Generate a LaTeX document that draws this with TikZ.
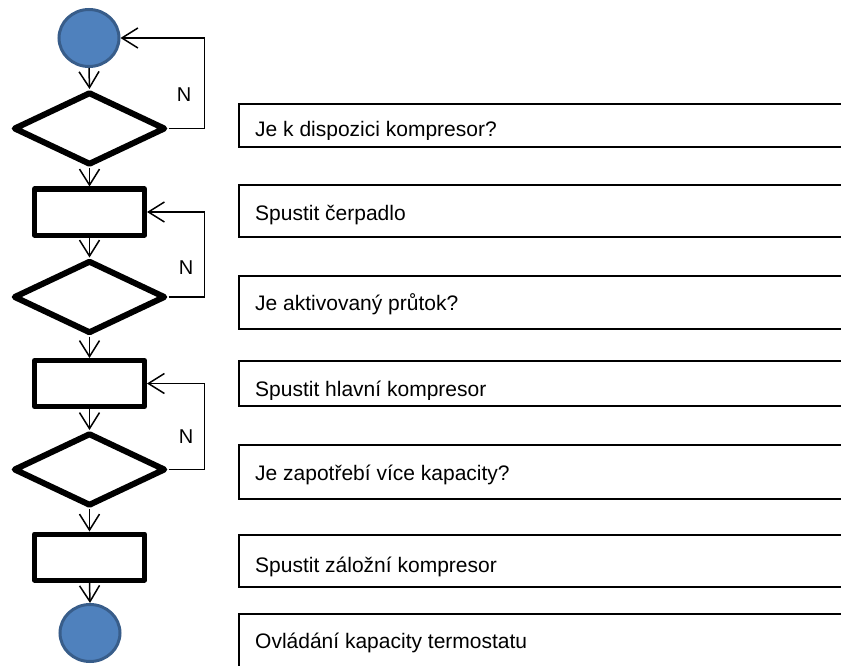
\documentclass[tikz,border=0pt]{standalone}
\usepackage{fontspec}
\setmainfont{Liberation Sans}
\usetikzlibrary{shapes.geometric,arrows.meta}
\definecolor{circfill}{HTML}{4F81BD}
\definecolor{circline}{HTML}{385D8A}
\tikzset{
  startend/.style={ellipse, draw=circline, fill=circfill, line width=3pt,
    minimum width=60pt, minimum height=57pt, inner sep=0pt},
  decision/.style={diamond, draw=black, line width=6pt, line join=round,
    minimum width=152pt, minimum height=73pt, inner sep=0pt},
  process/.style={rectangle, draw=black, line width=5pt, line join=round,
    minimum width=110pt, minimum height=46pt, inner sep=0pt},
  conn/.style={draw=black, line width=1.5pt,
    -{Straight Barb[length=16pt,width=20pt,line width=1.5pt]}},
  loopline/.style={conn},
  nlbl/.style={font=\fontsize{20}{24}\selectfont, inner sep=0pt},
  lblbox/.style={rectangle, draw=black, line width=2pt, inner sep=0pt,
    anchor=north west, minimum width=640pt},
  txt/.style={font=\fontsize{21}{25}\selectfont, inner sep=0pt, anchor=base west},
}
\begin{document}
\begin{tikzpicture}[x=1pt,y=-1pt]
\useasboundingbox (0,0) rectangle (841,666);
\clip (0,0) rectangle (841,666);
\fill[white] (0,0) rectangle (841,666);

% flow shapes
\node[startend] (c1) at (89,38) {};
\node[decision] (d1) at (89.5,128.5) {};
\node[process]  (p1) at (89.5,212) {};
\node[decision] (d2) at (89.5,297) {};
\node[process]  (p2) at (89.5,383.5) {};
\node[decision] (d3) at (89.5,469.5) {};
\node[process]  (p3) at (89.5,557) {};
\node[startend] (c2) at (90,633) {};

% main connectors
\draw[conn] (c1.south) -- (d1.north);
\draw[conn] (d1.south) -- (p1.north);
\draw[conn] (p1.south) -- (d2.north);
\draw[conn] (d2.south) -- (p2.north);
\draw[conn] (p2.south) -- (d3.north);
\draw[conn] (d3.south) -- (p3.north);
\draw[conn] (p3.south) -- (c2.north);

% loops
\draw[loopline] (d1.east) -- ++(36,0) |- (c1.east);
\draw[loopline] (d2.east) -- ++(36,0) |- (p1.east);
\draw[loopline] (d3.east) -- ++(36,0) |- (p2.east);

\node[nlbl] (n1) at (184,95) {N};
\node[nlbl] (n2) at (186,268) {N};
\node[nlbl] (n3) at (186,437) {N};

% label boxes
\node[lblbox, minimum height=43pt] (b1) at (238,103) {};
\node[lblbox, minimum height=52pt] (b2) at (238,184) {};
\node[lblbox, minimum height=53pt] (b3) at (238,275) {};
\node[lblbox, minimum height=45pt] (b4) at (238,360) {};
\node[lblbox, minimum height=54pt] (b5) at (238,444) {};
\node[lblbox, minimum height=52pt] (b6) at (238,534) {};
\node[lblbox, minimum height=90pt] (b7) at (238,613) {};

\begin{scope}
\clip (240,104) rectangle (841,139.5);
\node[txt] (t1) at (255,137) {Je k dispozici kompresor?};
\end{scope}
\node[txt] (t2) at (255,220) {Spustit čerpadlo};
\node[txt] (t3) at (255,310) {Je aktivovaný průtok?};
\begin{scope}
\clip (240,361) rectangle (841,399);
\node[txt] (t4) at (255,396) {Spustit hlavní kompresor};
\end{scope}
\node[txt] (t5) at (255,480) {Je zapotřebí více kapacity?};
\node[txt] (t6) at (255,572) {Spustit záložní kompresor};
\node[txt] (t7) at (255,648) {Ovládání kapacity termostatu};
\end{tikzpicture}
\end{document}
